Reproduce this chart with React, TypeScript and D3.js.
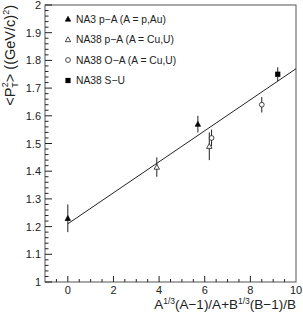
import React from "react";
import * as d3 from "d3";

// NA3 p-A (filled triangles)
const na3X = [0, 5.7];
const na3Y = [1.23, 1.57];
const na3Err = [0.05, 0.03];
// NA38 p-A (open triangles)
const na38pX = [3.9, 6.2];
const na38pY = [1.415, 1.49];
const na38pErr = [0.035, 0.05];
// NA38 O-A (open circles)
const na38oX = [6.3, 8.5];
const na38oY = [1.52, 1.64];
const na38oErr = [0.03, 0.028];
// NA38 S-U (filled square)
const na38sX = [9.2];
const na38sY = [1.75];
const na38sErr = [0.025];
// linear fit
const fitX = [0, 10];
const fitY = [1.21, 1.77];

const legendLabels = [
  "NA3 p\u2212A (A = p,Au)",
  "NA38 p\u2212A (A = Cu,U)",
  "NA38 O\u2212A (A = Cu,U)",
  "NA38 S\u2212U",
];
const xTicks = [0, 2, 4, 6, 8, 10];
const yTicks = [1, 1.1, 1.2, 1.3, 1.4, 1.5, 1.6, 1.7, 1.8, 1.9, 2];

type Marker = "tri" | "otri" | "circ" | "sq";

const App = () => {
  const svgRef = React.useRef<SVGSVGElement>(null);
  const width = 303;
  const height = 315;
  const margin = { left: 45, top: 5, right: 7, bottom: 33 };

  React.useEffect(() => {
    const xScale = d3.scaleLinear().domain([-1, 10]).range([margin.left, width - margin.right]);
    const yScale = d3.scaleLinear().domain([1, 2]).range([height - margin.bottom, margin.top]);
    const svg = d3.select(svgRef.current);
    svg.selectAll("*").remove();
    const font = "'Liberation Sans', Arial, sans-serif";
    const ink = "#222";

    // frame
    svg.append("rect")
      .attr("x", xScale(-1)).attr("y", yScale(2))
      .attr("width", xScale(10) - xScale(-1))
      .attr("height", yScale(1) - yScale(2))
      .attr("fill", "none").attr("stroke", "#555").attr("stroke-width", 1);

    // x axis ticks (inside)
    const xAxis = svg.append("g");
    d3.range(-0.5, 10, 0.5).forEach((v) => {
      const major = Math.abs(v % 2) < 1e-9;
      xAxis.append("line")
        .attr("x1", xScale(v)).attr("x2", xScale(v))
        .attr("y1", yScale(1)).attr("y2", yScale(1) - (major ? 6 : 3))
        .attr("stroke", ink);
    });
    xAxis.selectAll("text").data(xTicks).enter().append("text")
      .attr("x", (d) => xScale(d)).attr("y", yScale(1) + 12)
      .attr("text-anchor", "middle")
      .attr("font-family", font).attr("font-size", 11).attr("fill", ink)
      .text((d) => d);

    // y axis ticks (inside)
    const yAxis = svg.append("g");
    d3.range(0, 51).forEach((i) => {
      const v = 1 + i * 0.02;
      const major = i % 5 === 0;
      yAxis.append("line")
        .attr("x1", xScale(-1)).attr("x2", xScale(-1) + (major ? 7 : 3.5))
        .attr("y1", yScale(v)).attr("y2", yScale(v))
        .attr("stroke", ink);
    });
    yAxis.selectAll("text").data(yTicks).enter().append("text")
      .attr("x", xScale(-1) - 4)
      .attr("y", (d) => yScale(d) + 4)
      .attr("text-anchor", "end")
      .attr("font-family", font).attr("font-size", 11).attr("fill", ink)
      .text((d) => d3.format("~g")(d));

    // fit line
    const line = d3.line<number>()
      .x((d) => xScale(d))
      .y((d, i) => yScale(fitY[i]));
    svg.append("path")
      .attr("d", line(fitX))
      .attr("fill", "none").attr("stroke", ink).attr("stroke-width", 1);

    const drawMarker = (g: any, kind: Marker, cx: number, cy: number) => {
      if (kind === "tri" || kind === "otri") {
        const s = 2.7;
        g.append("path")
          .attr("d", `M${cx},${cy - s}L${cx + s},${cy + s * 0.8}L${cx - s},${cy + s * 0.8}Z`)
          .attr("fill", kind === "tri" ? "#000" : "#fff")
          .attr("stroke", "#000").attr("stroke-width", 0.7);
      } else if (kind === "circ") {
        g.append("circle").attr("cx", cx).attr("cy", cy).attr("r", 2.4)
          .attr("fill", "#fff").attr("stroke", "#000").attr("stroke-width", 0.7);
      } else {
        g.append("rect").attr("x", cx - 2.6).attr("y", cy - 2.6).attr("width", 5.2).attr("height", 5.2)
          .attr("fill", "#000");
      }
    };

    const series: [Marker, number[], number[], number[]][] = [
      ["tri", na3X, na3Y, na3Err],
      ["otri", na38pX, na38pY, na38pErr],
      ["circ", na38oX, na38oY, na38oErr],
      ["sq", na38sX, na38sY, na38sErr],
    ];
    const pts = svg.append("g");
    series.forEach(([kind, xs, ys, es]) => {
      xs.forEach((x, i) => {
        pts.append("line")
          .attr("x1", xScale(x)).attr("x2", xScale(x))
          .attr("y1", yScale(ys[i] + es[i])).attr("y2", yScale(ys[i] - es[i]))
          .attr("stroke", ink).attr("stroke-width", 1);
      });
    });
    series.forEach(([kind, xs, ys]) => {
      xs.forEach((x, i) => drawMarker(pts, kind, xScale(x), yScale(ys[i])));
    });

    // legend
    const legend = svg.append("g");
    series.forEach(([kind], i) => {
      const ly = 19 + i * 20.5;
      drawMarker(legend, kind, 68, ly);
      legend.append("text")
        .attr("x", 76).attr("y", ly + 3.5)
        .attr("font-family", font).attr("font-size", 10.3).attr("fill", ink)
        .text(legendLabels[i]);
    });

    // x axis title
    const xt = svg.append("text")
      .attr("x", xScale(10)).attr("y", 309)
      .attr("text-anchor", "end")
      .attr("font-family", font).attr("font-size", 13.5).attr("fill", ink);
    xt.append("tspan").text("A");
    xt.append("tspan").attr("font-size", 8.5).attr("dy", -5).text("1/3");
    xt.append("tspan").attr("dy", 5).text("(A\u22121)/A+B");
    xt.append("tspan").attr("font-size", 8.5).attr("dy", -5).text("1/3");
    xt.append("tspan").attr("dy", 5).text("(B\u22121)/B");

    // y axis title
    const yt = svg.append("text")
      .attr("transform", `translate(15,${yScale(2)}) rotate(-90)`)
      .attr("text-anchor", "end")
      .attr("font-family", font).attr("font-size", 14.5).attr("fill", ink);
    yt.append("tspan").text("<P");
    yt.append("tspan").attr("font-size", 9).attr("dy", 3).text("T");
    yt.append("tspan").attr("font-size", 9).attr("dx", -5).attr("dy", -10).text("2");
    yt.append("tspan").attr("dy", 7).text("> ((GeV/c)");
    yt.append("tspan").attr("font-size", 9).attr("dy", -6).text("2");
    yt.append("tspan").attr("dy", 6).text(")");
  }, []);

  return (
    <svg
      ref={svgRef}
      width={width}
      height={height}
      style={{ position: "absolute", left: 0, top: 0, background: "#fff" }}
    />
  );
};

export default App;
